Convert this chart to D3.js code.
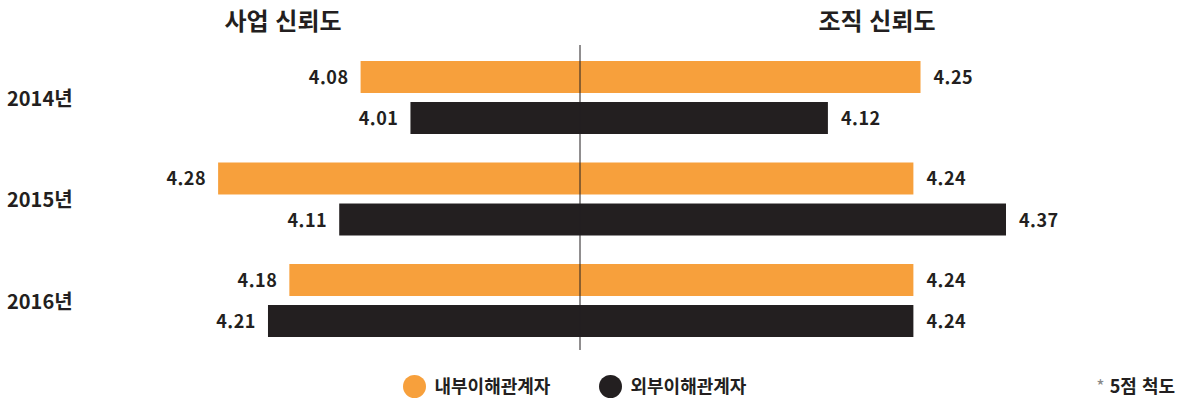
<!DOCTYPE html>
<html lang="ko">
<head>
    <meta charset="UTF-8">
    <title>사업 신뢰도 / 조직 신뢰도</title>
    <script src="https://d3js.org/d3.v7.min.js"></script>
    <style>
        body { margin: 0; background: #fff; }
        svg text { font-family: "Noto Sans CJK KR", "Noto Sans", sans-serif; font-weight: 700; fill: #231f20; }
        .title { font-size: 24px; }
        .year { font-size: 20px; }
        .val { font-size: 18px; letter-spacing: 0.5px; }
        .legend { font-size: 18px; }
    </style>
</head>
<body>
    <svg width="1179" height="403"></svg>
    <script>
        // data
        const years = ["2014년", "2015년", "2016년"];
        const groups = ["내부이해관계자", "외부이해관계자"];
        const businessTrust = [[4.08, 4.01], [4.28, 4.11], [4.18, 4.21]];   // 사업 신뢰도
        const orgTrust = [[4.25, 4.12], [4.24, 4.37], [4.24, 4.24]];        // 조직 신뢰도
        const colors = ["#f7a03c", "#231f20"];

        const svg = d3.select("svg");
        const centerX = 580;

        // bar length scale (bars start at centre line)
        const len = d3.scaleLinear().domain([3.772, 4.37]).range([0, 426]);

        const yGroup = d3.scaleBand().domain(years).range([61, 365.5]).paddingInner(0);
        const yInner = d3.scaleBand().domain(groups).range([0, 73]).paddingInner(0.22);

        // titles
        svg.append("text").attr("class", "title").attr("x", 283).attr("y", 30)
            .attr("text-anchor", "middle").text("사업 신뢰도");
        svg.append("text").attr("class", "title").attr("x", 877).attr("y", 30)
            .attr("text-anchor", "middle").text("조직 신뢰도");

        const g = svg.selectAll("g.year-g")
            .data(years)
            .enter().append("g")
            .attr("transform", d => `translate(0,${yGroup(d)})`);

        g.append("text")
            .attr("class", "year")
            .attr("x", 7)
            .attr("y", 36.5 + 8)
            .text(d => d);

        years.forEach((yr, i) => {
            const row = g.filter(d => d === yr);
            groups.forEach((grp, j) => {
                const y0 = yInner(grp);
                const h = yInner.bandwidth();
                const lv = businessTrust[i][j];
                const rv = orgTrust[i][j];

                row.append("rect")
                    .attr("x", centerX - len(lv)).attr("y", y0)
                    .attr("width", len(lv)).attr("height", h)
                    .attr("fill", colors[j]);
                row.append("rect")
                    .attr("x", centerX).attr("y", y0)
                    .attr("width", len(rv)).attr("height", h)
                    .attr("fill", colors[j]);

                row.append("text").attr("class", "val")
                    .attr("x", centerX - len(lv) - 12).attr("y", y0 + h / 2 + 7)
                    .attr("text-anchor", "end").text(lv.toFixed(2));
                row.append("text").attr("class", "val")
                    .attr("x", centerX + len(rv) + 13).attr("y", y0 + h / 2 + 7)
                    .text(rv.toFixed(2));
            });
        });

        // centre line
        svg.append("line")
            .attr("x1", centerX).attr("x2", centerX)
            .attr("y1", 45).attr("y2", 350)
            .attr("stroke", "#231f20").attr("stroke-width", 1);

        // legend
        const legX = [414.5, 610.5];
        groups.forEach((grp, j) => {
            svg.append("circle")
                .attr("cx", legX[j]).attr("cy", 386.5)
                .attr("r", 11.5)
                .attr("fill", colors[j]);
            svg.append("text").attr("class", "legend")
                .attr("x", legX[j] + 20).attr("y", 393)
                .text(grp);
        });

        const note = svg.append("text").attr("class", "legend")
            .attr("x", 1175).attr("y", 393).attr("text-anchor", "end");
        note.append("tspan").attr("fill", "#888").style("font-weight", 400).text("* ");
        note.append("tspan").text("5점 척도");
    </script>
</body>
</html>
